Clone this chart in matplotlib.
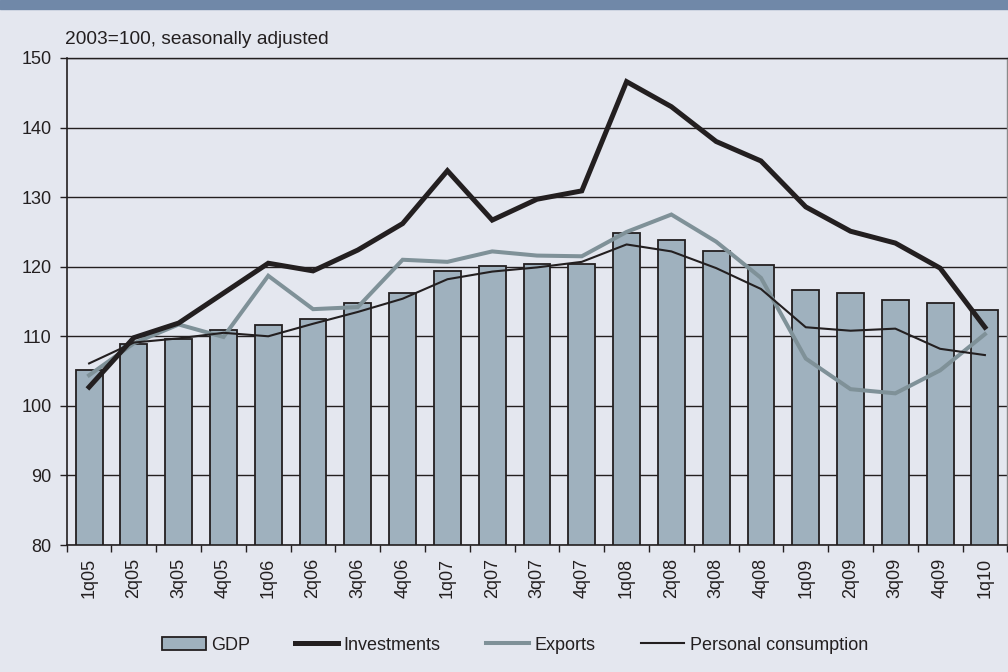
import matplotlib
matplotlib.use("Agg")
import matplotlib.pyplot as plt
import numpy as np
from matplotlib.patches import Patch
from matplotlib.lines import Line2D

plt.rcParams['font.family'] = ['Liberation Sans', 'DejaVu Sans']

quarters = ['1q05', '2q05', '3q05', '4q05', '1q06', '2q06', '3q06', '4q06',
            '1q07', '2q07', '3q07', '4q07', '1q08', '2q08', '3q08', '4q08',
            '1q09', '2q09', '3q09', '4q09', '1q10']
gdp = [105.2, 108.9, 109.6, 110.9, 111.6, 112.5, 114.8, 116.2, 119.4, 120.1,
       120.35, 120.35, 124.9, 123.9, 122.3, 120.2, 116.6, 116.2, 115.2, 114.8, 113.8]
investments = [102.7, 109.8, 111.9, 116.2, 120.5, 119.4, 122.4, 126.2, 133.8, 126.7,
               129.7, 130.9, 146.6, 143.0, 138.0, 135.2, 128.6, 125.1, 123.4, 119.8, 111.3]
exports = [104.4, 109.0, 111.7, 109.9, 118.7, 113.9, 114.2, 121.0, 120.7, 122.2,
           121.6, 121.5, 125.0, 127.5, 123.6, 118.4, 106.8, 102.4, 101.8, 105.1, 110.3]
consumption = [106.1, 109.1, 109.7, 110.5, 110.0, 111.8, 113.5, 115.4, 118.2, 119.3,
               119.9, 120.7, 123.2, 122.2, 119.8, 116.8, 111.3, 110.8, 111.1, 108.2, 107.3]
y_ticks = [80, 90, 100, 110, 120, 130, 140, 150]
subtitle = '2003=100, seasonally adjusted'

BG = '#e4e7ef'
DARK = '#231f20'
BAR = '#9fb1be'
EXP = '#7f9198'
FS = 13

W, H = 1008, 672
fig = plt.figure(figsize=(W / 100, H / 100), dpi=100, facecolor=BG)
ax = fig.add_axes([66.7 / W, 1 - 545 / H, (1007.3 - 66.7) / W, (545 - 58) / H])
ax.set_facecolor(BG)

# header strip
fig.patches.append(plt.Rectangle((0, 1 - 8.5 / H), 1, 8.5 / H, transform=fig.transFigure,
                                 color='#7088a8', zorder=0))

x = np.arange(len(quarters))
ax.bar(x, gdp, width=0.6, bottom=0, color=BAR, edgecolor=DARK, linewidth=1.3, zorder=2)
ax.plot(x, investments, color=DARK, lw=3.6, zorder=4, solid_joinstyle='miter')
ax.plot(x, exports, color=EXP, lw=2.9, zorder=3, solid_joinstyle='miter')
ax.plot(x, consumption, color=DARK, lw=1.5, zorder=5)

ax.set_ylim(80, 150)
ax.set_xlim(-0.5, len(quarters) - 0.5)
ax.set_yticks(y_ticks)
ax.set_yticklabels([str(v) for v in y_ticks], fontsize=FS, color=DARK)
ax.yaxis.grid(True, color=DARK, lw=1.0, zorder=0)
ax.set_axisbelow(True)

ax.set_xticks(x)
ax.set_xticklabels(quarters, rotation=90, fontsize=FS, color=DARK)
ax.set_xticks(np.arange(-0.5, len(quarters), 1.0), minor=True)
ax.tick_params(axis='x', which='major', length=0, pad=9)
ax.tick_params(axis='x', which='minor', length=5, width=1, color=DARK, direction='out')
ax.tick_params(axis='y', length=5, width=1, color=DARK, pad=6)

for s in ['left', 'bottom']:
    ax.spines[s].set_color(DARK)
    ax.spines[s].set_linewidth(1.2)
ax.spines['top'].set_color(DARK)
ax.spines['top'].set_linewidth(1.0)
ax.spines['right'].set_color('#8a8a8a')
ax.spines['right'].set_linewidth(1.0)

fig.text(65 / W, 1 - 39 / H, subtitle, fontsize=13.8, color=DARK, va='center', ha='left')

handles = [Patch(facecolor=BAR, edgecolor=DARK, linewidth=1.3),
           Line2D([0], [0], color=DARK, lw=3.6),
           Line2D([0], [0], color=EXP, lw=2.9),
           Line2D([0], [0], color=DARK, lw=1.5)]
labels = ['GDP', 'Investments', 'Exports', 'Personal consumption']
leg = fig.legend(handles, labels, loc='center', bbox_to_anchor=(515 / W, 1 - 645 / H),
                 ncol=4, frameon=False, fontsize=FS, handlelength=2.4,
                 handleheight=0.7, handletextpad=0.3, columnspacing=2.5)
for t in leg.get_texts():
    t.set_color(DARK)

fig.savefig('out.png', dpi=100, facecolor=BG)
